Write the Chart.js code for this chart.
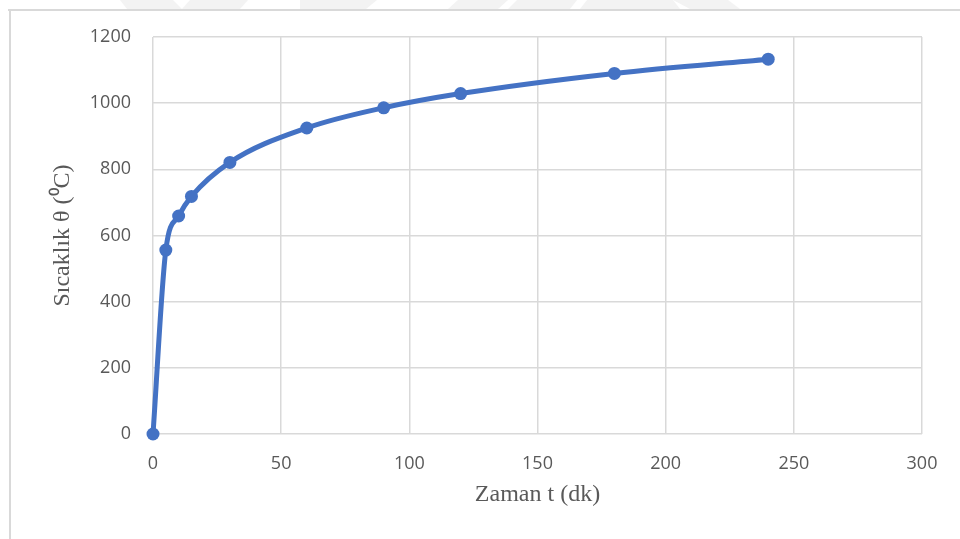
<!DOCTYPE html>
<html>
<head>
<meta charset="utf-8">
<script src="https://cdn.jsdelivr.net/npm/chart.js@4/dist/chart.umd.min.js"></script>
<style>
  html, body { margin: 0; padding: 0; background: #ffffff; }
  #wrap { width: 960px; height: 539px; position: relative; }
</style>
</head>
<body>
<div id="wrap"><canvas id="c" width="960" height="539"></canvas></div>
<script>
// Fire temperature over time
const times = [0, 5, 10, 15, 30, 60, 90, 120, 180, 240];          // t (dk)
const temps = [0, 556, 659, 718, 821, 925, 986, 1029, 1090, 1133]; // θ (°C)
const xTicks = [0, 50, 100, 150, 200, 250, 300];
const yTicks = [0, 200, 400, 600, 800, 1000, 1200];
const xTitle = 'Zaman t (dk)';
const yTitle = 'Sıcaklık θ (⁰C)';

const points = times.map((t, i) => ({ x: t, y: temps[i] }));

// Page frame and faint header shapes behind the chart
const framePlugin = {
  id: 'frame',
  beforeDraw(chart) {
    const ctx = chart.ctx;
    ctx.save();
    ctx.fillStyle = '#ffffff';
    ctx.fillRect(0, 0, chart.width, chart.height);
    ctx.fillStyle = '#f3f3f3';
    const shapes = [
      [[120, 0], [173, 0], [182, 9], [127, 9]],
      [[190, 0], [248, 0], [240, 9], [182, 9]],
      [[300, 0], [377, 0], [366, 9], [300, 9]],
      [[458, 0], [508, 0], [498, 9], [448, 9]],
      [[517, 0], [577, 0], [570, 9], [508, 9]],
      [[587, 0], [673, 0], [680, 9], [580, 9]],
      [[673, 0], [728, 0], [740, 9], [690, 9]]
    ];
    shapes.forEach(s => {
      ctx.beginPath();
      ctx.moveTo(s[0][0], s[0][1]);
      for (let k = 1; k < s.length; k++) ctx.lineTo(s[k][0], s[k][1]);
      ctx.closePath();
      ctx.fill();
    });
    ctx.strokeStyle = '#d9d9d9';
    ctx.lineWidth = 2;
    ctx.beginPath();
    ctx.moveTo(8, 10);
    ctx.lineTo(960, 10);
    ctx.moveTo(10, 10);
    ctx.lineTo(10, 539);
    ctx.stroke();
    ctx.restore();
  }
};

const tickFont = { family: '"Open Sans", "DejaVu Sans", sans-serif', size: 18 };
const titleFont = { family: '"Liberation Serif", "Times New Roman", serif', size: 24, lineHeight: 1.2 };
const plain = v => String(v);

new Chart(document.getElementById('c'), {
  type: 'scatter',
  data: {
    datasets: [{
      data: points,
      showLine: true,
      clip: false,
      borderColor: '#4472C4',
      backgroundColor: '#4472C4',
      borderWidth: 5,
      pointRadius: 6.5,
      pointHoverRadius: 6.5,
      pointBorderWidth: 0,
      cubicInterpolationMode: 'monotone'
    }]
  },
  options: {
    responsive: false,
    animation: false,
    events: [],
    layout: { padding: { left: 0, right: 38, top: 37, bottom: 0 } },
    plugins: { legend: { display: false }, tooltip: { enabled: false } },
    scales: {
      x: {
        type: 'linear',
        min: 0,
        max: 300,
        afterBuildTicks(scale) { scale.ticks = xTicks.map(v => ({ value: v })); },
        afterFit(scale) { scale.height = 105; },
        border: { display: false },
        grid: { color: '#d9d9d9', lineWidth: 1.5, drawTicks: false },
        ticks: { color: '#595959', font: tickFont, padding: 19, maxRotation: 0, callback: plain },
        title: { display: true, text: xTitle, color: '#595959', font: titleFont, padding: { top: 0, bottom: 30 } }
      },
      y: {
        type: 'linear',
        min: 0,
        max: 1200,
        afterBuildTicks(scale) { scale.ticks = yTicks.map(v => ({ value: v })); },
        afterFit(scale) { scale.width = 153; },
        border: { display: false },
        grid: { color: '#d9d9d9', lineWidth: 1.5, drawTicks: false },
        ticks: { color: '#595959', font: tickFont, padding: 22, callback: plain },
        title: { display: true, text: yTitle, color: '#595959', font: titleFont, padding: { top: 48, bottom: 0 } }
      }
    }
  },
  plugins: [framePlugin]
});
</script>
</body>
</html>
